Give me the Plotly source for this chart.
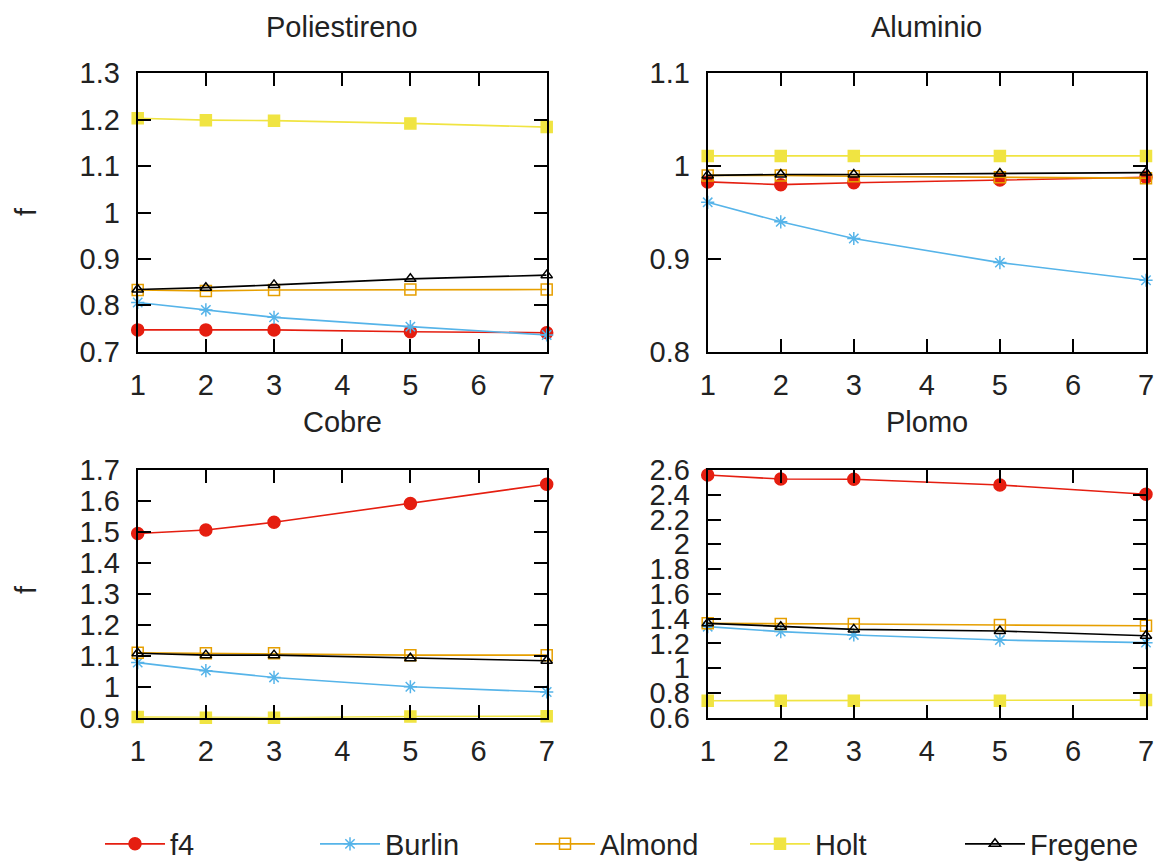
import plotly.graph_objects as go

x_vals = [1, 2, 3, 5, 7]
series_names = ["f4", "Burlin", "Almond", "Holt", "Fregene"]
panel_titles = ["Poliestireno", "Aluminio", "Cobre", "Plomo"]

# Poliestireno
poli_f4 = [0.747, 0.747, 0.747, 0.743, 0.741]
poli_burlin = [0.806, 0.790, 0.774, 0.754, 0.736]
poli_almond = [0.833, 0.831, 0.833, 0.834, 0.834]
poli_holt = [1.203, 1.199, 1.198, 1.192, 1.184]
poli_fregene = [0.834, 0.838, 0.844, 0.857, 0.865]

# Aluminio
alu_f4 = [0.983, 0.980, 0.982, 0.985, 0.988]
alu_burlin = [0.961, 0.940, 0.922, 0.896, 0.877]
alu_almond = [0.990, 0.990, 0.989, 0.988, 0.987]
alu_holt = [1.011, 1.011, 1.011, 1.011, 1.011]
alu_fregene = [0.990, 0.991, 0.991, 0.992, 0.993]

# Cobre
cob_f4 = [1.495, 1.506, 1.531, 1.592, 1.654]
cob_burlin = [1.078, 1.052, 1.030, 1.000, 0.983]
cob_almond = [1.110, 1.108, 1.108, 1.102, 1.102]
cob_holt = [0.902, 0.900, 0.900, 0.904, 0.905]
cob_fregene = [1.108, 1.102, 1.102, 1.092, 1.084]

# Plomo
plo_f4 = [2.560, 2.527, 2.525, 2.479, 2.404]
plo_burlin = [1.335, 1.295, 1.268, 1.227, 1.206]
plo_almond = [1.362, 1.356, 1.356, 1.348, 1.343]
plo_holt = [0.737, 0.737, 0.737, 0.737, 0.742]
plo_fregene = [1.362, 1.335, 1.313, 1.300, 1.262]

y_ranges = [[0.7, 1.3], [0.8, 1.1], [0.9, 1.7], [0.6, 2.6]]
y_dticks = [0.1, 0.1, 0.1, 0.2]
x_tick_labels = ["1", "2", "3", "4", "5", "6", "7"]

panels = [
    [poli_f4, poli_burlin, poli_almond, poli_holt, poli_fregene],
    [alu_f4, alu_burlin, alu_almond, alu_holt, alu_fregene],
    [cob_f4, cob_burlin, cob_almond, cob_holt, cob_fregene],
    [plo_f4, plo_burlin, plo_almond, plo_holt, plo_fregene],
]

colors = ["#e51e10", "#56b4e9", "#e69f00", "#f0e442", "#000000"]
symbols = ["circle", "asterisk-open", "square-open", "square", "triangle-up-open"]
sizes = [12, 11, 11, 11, 10]

W, H = 1165, 863
FONT = "Liberation Sans, Arial, sans-serif"
FS = 29

# pixel boxes: (left, right, top, bottom)
boxes = [
    (137.7, 546.7, 73.3, 351.7),
    (707.7, 1146.0, 73.3, 351.7),
    (137.7, 546.7, 470.0, 717.7),
    (707.7, 1146.0, 470.0, 717.7),
]

fig = go.Figure()
layout = {}
for p, (data, box) in enumerate(zip(panels, boxes)):
    idx = "" if p == 0 else str(p + 1)
    l, r, t, b = box
    for s, name in enumerate(series_names):
        fig.add_trace(go.Scatter(
            x=x_vals, y=data[s], name=name, mode="lines+markers",
            xaxis="x" + idx, yaxis="y" + idx,
            line=dict(color=colors[s], width=1.6),
            marker=dict(symbol=symbols[s], size=sizes[s], color=colors[s],
                        line=dict(color=colors[s], width=1.5)),
            cliponaxis=False, showlegend=(p == 0),
        ))
    common = dict(showline=True, linecolor="black", linewidth=2, mirror="allticks",
                  ticks="inside", ticklen=13, tickwidth=2, tickcolor="black",
                  showgrid=False, zeroline=False, automargin=False,
                  tickfont=dict(family=FONT, size=FS, color="#222"))
    layout["xaxis" + idx] = dict(common, domain=[l / W, r / W], range=[1, 7],
                                 tickvals=list(range(1, 8)), ticktext=x_tick_labels,
                                 anchor="y" + idx, ticklabelstandoff=6)
    layout["yaxis" + idx] = dict(common, domain=[1 - b / H, 1 - t / H], range=y_ranges[p],
                                 dtick=y_dticks[p], tick0=0, anchor="x" + idx,
                                 ticklabelstandoff=10)

annotations = []
title_y = [27, 27, 422, 422]
for p, (box, ty) in enumerate(zip(boxes, title_y)):
    l, r, t, b = box
    annotations.append(dict(text=panel_titles[p], x=(l + r) / 2 / W, y=1 - ty / H,
                            xref="paper", yref="paper", showarrow=False,
                            xanchor="center", yanchor="middle",
                            font=dict(family=FONT, size=FS, color="#222")))
for yc in [212, 590]:
    annotations.append(dict(text="f", x=26 / W, y=1 - yc / H, xref="paper", yref="paper",
                            showarrow=False, textangle=-90, xanchor="center", yanchor="middle",
                            font=dict(family=FONT, size=FS, color="#222")))

fig.update_layout(
    **layout,
    annotations=annotations,
    width=W, height=H,
    margin=dict(l=0, r=0, t=0, b=0, autoexpand=False),
    paper_bgcolor="white", plot_bgcolor="white",
    showlegend=True,
    legend=dict(orientation="h", x=100 / W, y=1 - 844 / H, xanchor="left", yanchor="middle",
                font=dict(family=FONT, size=FS, color="#222"),
                entrywidth=140, entrywidthmode="pixels", bgcolor="rgba(0,0,0,0)",
                itemwidth=60),
)

fig.write_html("out.html", config={"displayModeBar": False},
               post_script="document.body.style.margin='0px';document.body.style.overflow='hidden';")
